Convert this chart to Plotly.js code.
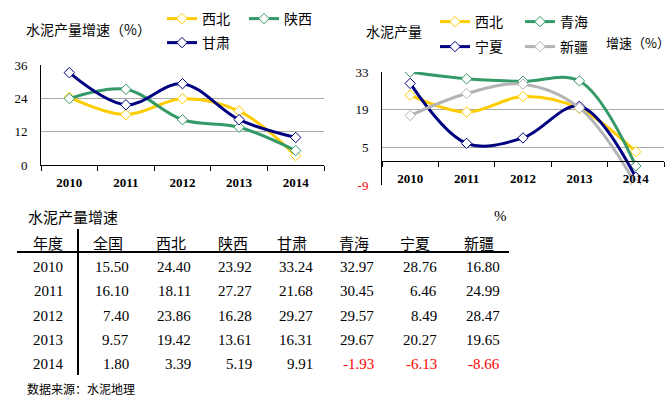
<!DOCTYPE html>
<html><head><meta charset="utf-8">
<script src="https://cdn.plot.ly/plotly-3.0.1.min.js"></script>
<style>html,body{margin:0;padding:0;background:#fff}</style>
</head><body><div id="chart" style="width:671px;height:399px"></div>
<script>
// ---- data ----
const years = ['2010','2011','2012','2013','2014'];
const national = [15.50, 16.10, 7.40, 9.57, 1.80];
const xibei    = [24.40, 18.11, 23.86, 19.42, 3.39];
const shaanxi  = [23.92, 27.27, 16.28, 13.61, 5.19];
const gansu    = [33.24, 21.68, 29.27, 16.31, 9.91];
const qinghai  = [32.97, 30.45, 29.57, 29.67, -1.93];
const ningxia  = [28.76, 6.46, 8.49, 20.27, -6.13];
const xinjiang = [16.80, 24.99, 28.47, 19.65, -8.66];
const leftTicks = [0, 12, 24, 36];
const rightTicks = [-9, 5, 19, 33];
const tableHeaders = ['年度','全国','西北','陕西','甘肃','青海','宁夏','新疆'];
const tableCols = [national, xibei, shaanxi, gansu, qinghai, ningxia, xinjiang];

// ---- helpers ----
const W = 671, H = 399;
const px = x => x / W;
const py = y => 1 - y / H;
const CJK = '"Noto Sans CJK SC", sans-serif';
const SERIF = '"Liberation Serif", "Times New Roman", serif';
const C_YEL = '#FFCC00', C_GRN = '#339966', C_NAV = '#000080', C_GRY = '#B4B4B4';

function series(name, y, color, xa, ya, legend) {
  return {
    type: 'scatter', mode: 'lines+markers', name: name, x: years, y: y,
    xaxis: xa, yaxis: ya, legend: legend,
    line: {color: color, width: 3, shape: 'spline', smoothing: 1},
    marker: {symbol: 'diamond', size: 8, color: '#FFFFFF', line: {color: color, width: 1}},
    hoverinfo: 'skip'
  };
}

const data = [
  series('西北', xibei, C_YEL, 'x', 'y', 'legend'),
  series('陕西', shaanxi, C_GRN, 'x', 'y', 'legend'),
  series('甘肃', gansu, C_NAV, 'x', 'y', 'legend2'),
  series('西北', xibei, C_YEL, 'x2', 'y2', 'legend3'),
  series('青海', qinghai, C_GRN, 'x2', 'y2', 'legend3'),
  series('宁夏', ningxia, C_NAV, 'x2', 'y2', 'legend4'),
  series('新疆', xinjiang, C_GRY, 'x2', 'y2', 'legend4')
];

const legFont = {family: CJK, size: 14, color: '#000'};
function leg(xp, yp, ew) {
  return {x: px(xp), y: py(yp), xanchor: 'left', yanchor: 'middle', orientation: 'h',
    entrywidth: ew, entrywidthmode: 'pixels', font: legFont, bgcolor: 'rgba(0,0,0,0)',
    borderwidth: 0, tracegroupgap: 0, itemclick: false};
}

const xTickFont = {family: SERIF, size: 13, color: '#000', weight: 'bold'};
const yTickFont = {family: SERIF, size: 13, color: '#000'};

const annotations = [];
function ann(text, x, y, opts) {
  annotations.push(Object.assign({text: text, x: px(x), y: py(y), xref: 'paper', yref: 'paper',
    showarrow: false, xanchor: 'left', yanchor: 'middle', font: {family: CJK, size: 15, color: '#000'}}, opts || {}));
}
// chart titles
ann('水泥产量增速（%）', 24, 29, {font: {family: CJK, size: 14, color: '#000'}});
ann('水泥产量', 364, 31, {font: {family: CJK, size: 14, color: '#000'}});
ann('增速（%）', 604, 42, {font: {family: CJK, size: 13, color: '#000'}});
// table
ann('水泥产量增速', 26, 216, {font: {family: CJK, size: 15, color: '#000'}});
ann('%', 500, 216, {xanchor: 'center', font: {family: SERIF, size: 15, color: '#000'}});
const headerCenters = [48, 108, 171, 233, 292, 354, 415, 479];
tableHeaders.forEach((h, i) => ann(h, headerCenters[i], 242, {xanchor: 'center'}));
const rowY = [267, 291, 316, 340, 364];
const colRight = [131, 193, 254, 315, 376, 439, 502];
years.forEach((yr, r) => {
  ann(yr, 48, rowY[r], {xanchor: 'center', font: {family: SERIF, size: 15, color: '#000'}});
  tableCols.forEach((col, c) => {
    const v = col[r];
    ann(v.toFixed(2), colRight[c], rowY[r], {xanchor: 'right',
      font: {family: SERIF, size: 15, color: v < 0 ? '#FF0000' : '#000'}});
  });
});
ann('数据来源：水泥地理', 25, 388, {font: {family: CJK, size: 12, color: '#000'}});

const shapes = [
  {type: 'line', xref: 'paper', yref: 'paper', x0: px(17), x1: px(509), y0: py(252), y1: py(252), line: {color: '#000', width: 2}},
  {type: 'line', xref: 'paper', yref: 'paper', x0: px(78), x1: px(78), y0: py(229), y1: py(375), line: {color: '#000', width: 2}}
];

const layout = {
  width: W, height: H, margin: {l: 0, r: 0, t: 0, b: 0},
  paper_bgcolor: '#fff', plot_bgcolor: 'rgba(0,0,0,0)', showlegend: true,
  xaxis: {domain: [px(41), px(324)], anchor: 'y', type: 'category', range: [-0.5, 4.5],
    tickson: 'boundaries', ticks: 'outside', ticklen: 5, tickcolor: '#000', showline: true,
    linecolor: '#000', linewidth: 1, showgrid: false, zeroline: false, tickfont: xTickFont,
    ticklabelstandoff: 5, fixedrange: true},
  yaxis: {domain: [py(165), py(65)], anchor: 'x', range: [0, 36], tickvals: leftTicks,
    showgrid: true, gridcolor: '#AAAAAA', gridwidth: 1, showline: true, linecolor: '#000', linewidth: 1,
    zeroline: false, ticks: '', ticklabelstandoff: 10, tickfont: yTickFont, fixedrange: true},
  xaxis2: {domain: [px(382), px(664)], anchor: 'free', position: py(160.5), type: 'category', range: [-0.5, 4.5],
    tickson: 'boundaries', ticks: 'outside', ticklen: 5, tickcolor: '#000', showline: true,
    linecolor: '#000', linewidth: 1, showgrid: false, zeroline: false, tickfont: xTickFont,
    ticklabelstandoff: 6, fixedrange: true},
  yaxis2: {domain: [py(185), py(72)], anchor: 'x2', range: [-9, 33], tickvals: rightTicks,
    ticktext: rightTicks.map(v => v < 0 ? '<span style="color:#FF0000">' + v + '</span>' : String(v)),
    showgrid: true, gridcolor: '#AAAAAA', gridwidth: 1, showline: true, linecolor: '#000', linewidth: 1,
    zeroline: false, ticks: '', ticklabelstandoff: 10, tickfont: yTickFont, fixedrange: true},
  legend: leg(162, 19, 37),
  legend2: leg(162, 43, 37),
  legend3: leg(435, 22, 40),
  legend4: leg(435, 47, 40),
  annotations: annotations,
  shapes: shapes
};

Plotly.newPlot('chart', data, layout, {displayModeBar: false, staticPlot: true});
</script>
</body></html>
